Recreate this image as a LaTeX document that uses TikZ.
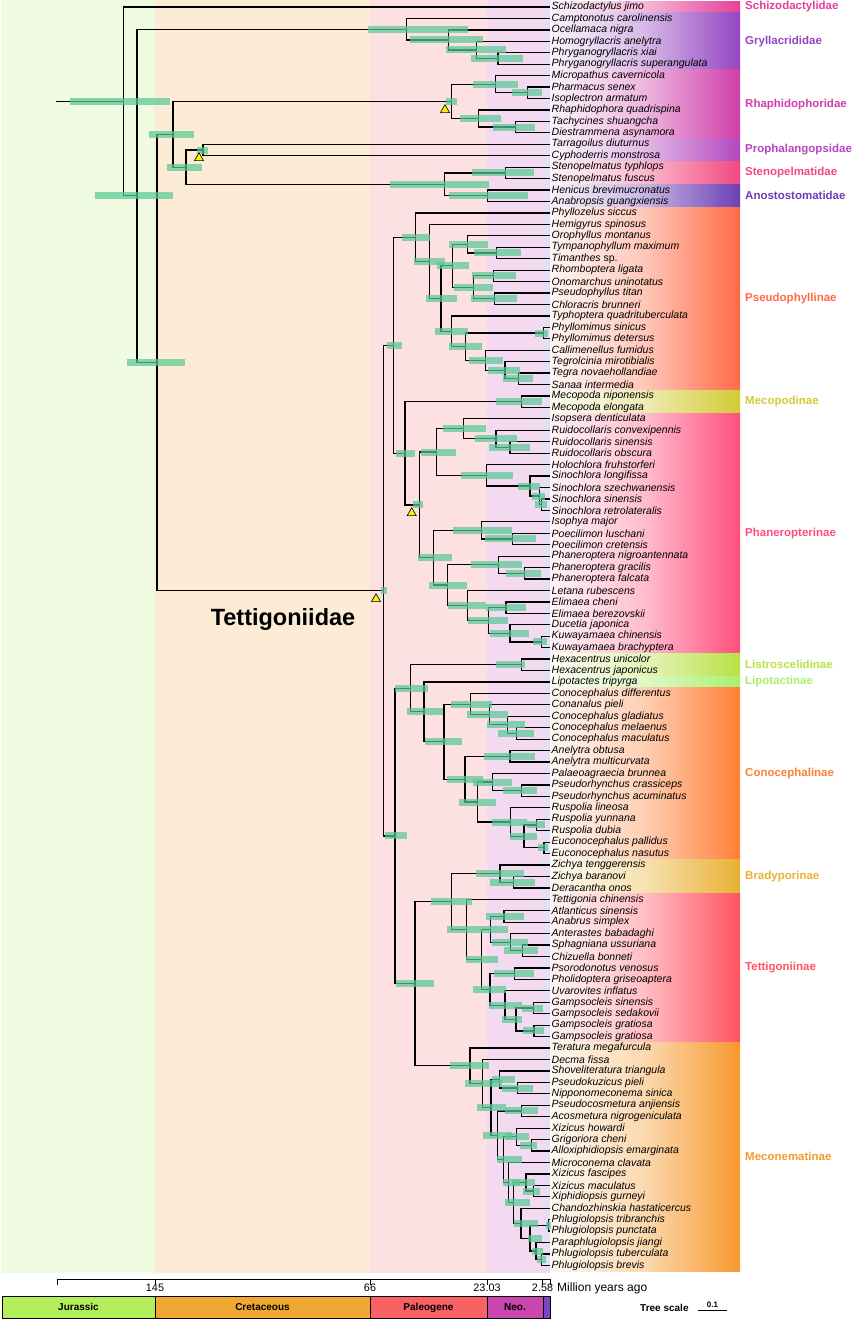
\documentclass[tikz,border=0pt]{standalone}
\usepackage{fontspec}
\setmainfont{Liberation Sans}
\usetikzlibrary{calc,shapes.geometric}

\pgfdeclarelayer{front}
\pgfsetlayers{main,front}

\definecolor{bandJ}{HTML}{EFFAE1}
\definecolor{bandK}{HTML}{FDECD5}
\definecolor{bandP}{HTML}{FDE0E1}
\definecolor{bandN}{HTML}{F3DAF0}
\definecolor{bandQ}{HTML}{E5DEF5}
\definecolor{perJ}{HTML}{B3EF5B}
\definecolor{perK}{HTML}{F1A832}
\definecolor{perP}{HTML}{F96164}
\definecolor{perN}{HTML}{CB45AE}
\definecolor{perQ}{HTML}{7B45C6}
\definecolor{hpdgreen}{HTML}{5AC896}
\definecolor{cSchi}{HTML}{E5409A}
\definecolor{cGryl}{HTML}{9545C2}
\definecolor{cRhap}{HTML}{D03FAA}
\definecolor{cProp}{HTML}{B247BE}
\definecolor{cSten}{HTML}{F2487F}
\definecolor{cAnos}{HTML}{6B3FB5}
\definecolor{cPseu}{HTML}{FF6B45}
\definecolor{cMeco}{HTML}{D3CB35}
\definecolor{cPhan}{HTML}{FF4F7D}
\definecolor{cList}{HTML}{B9E146}
\definecolor{cLipo}{HTML}{A8F06C}
\definecolor{cCono}{HTML}{FF7F35}
\definecolor{cBrad}{HTML}{E8B133}
\definecolor{cTett}{HTML}{FF5361}
\definecolor{cMcnm}{HTML}{F7992D}

\tikzset{
  branch/.style={line width=1.25pt,black},
  hpd/.style={fill=hpdgreen,fill opacity=0.72},
  leaf/.style={anchor=west,inner sep=1.5pt,font=\fontsize{10.5}{12}\selectfont\itshape},
  cladelab/.style={anchor=west,inner sep=0pt,font=\fontsize{11.5}{13}\selectfont\bfseries},
  cal/.style={regular polygon,regular polygon sides=3,draw=black,line width=0.6pt,fill=yellow,minimum size=10.5pt,inner sep=0pt},
  perbox/.style={draw=black,line width=0.5pt},
  perlab/.style={anchor=base,inner sep=0pt,font=\fontsize{10}{12}\selectfont\bfseries},
  ticklab/.style={anchor=base,inner sep=0pt,font=\fontsize{10.8}{12}\selectfont}
}

% name, x, child1, child2, bar from, bar to
\newcommand{\clade}[6]{%
  \coordinate (cm) at ($(#3)!.5!(#4)$);
  \coordinate (cx) at (#2,0);
  \coordinate (#1) at (cx |- cm);
  \draw[branch] (#3) -| (#1) |- (#4);
  \begin{pgfonlayer}{front}
    \coordinate (bx) at (#5,0);
    \fill[hpd] (bx |- #1) ++(0,-3.5) rectangle ++({#6-#5},7);
  \end{pgfonlayer}}

\begin{document}
\begin{tikzpicture}[x=1pt,y=-1pt]
\useasboundingbox (0,0) rectangle (858,1320);

\fill[bandJ] (1,0) rectangle (155,1273);
\fill[bandK] (155,0) rectangle (370,1273);
\fill[bandP] (370,0) rectangle (487,1273);
\fill[bandN] (487,0) rectangle (543,1273);
\fill[bandQ] (543,0) rectangle (550,1273);

\foreach \f/\l/\c/\n in {1/1/cSchi/Schizodactylidae,2/6/cGryl/Gryllacrididae,
  7/12/cRhap/Rhaphidophoridae,13/14/cProp/Prophalangopsidae,
  15/16/cSten/Stenopelmatidae,17/18/cAnos/Anostostomatidae,
  19/34/cPseu/Pseudophyllinae,35/36/cMeco/Mecopodinae,
  37/57/cPhan/Phaneropterinae,58/59/cList/Listroscelidinae,
  60/60/cLipo/Lipotactinae,61/75/cCono/Conocephalinae,
  76/78/cBrad/Bradyporinae,79/91/cTett/Tettigoniinae,
  92/111/cMcnm/Meconematinae}{
  \shade[left color=\c!6!white,right color=\c,middle color=\c!38!white]
    (550,{1.28+(\f-1)*11.44}) rectangle (740,{12.72+(\l-1)*11.44});
  \node[cladelab,text=\c] (lab\f) at (745,{7+(\f+\l-2)*5.72}) {\n};
}

\foreach \n [count=\i] in {Schizodactylus jimo,Camptonotus carolinensis,Ocellamaca nigra,
  Homogryllacris anelytra,Phryganogryllacris xiai,Phryganogryllacris superangulata,
  Micropathus cavernicola,Pharmacus senex,Isoplectron armatum,Rhaphidophora quadrispina,
  Tachycines shuangcha,Diestrammena asynamora,Tarragoilus diuturnus,Cyphoderris monstrosa,
  Stenopelmatus typhlops,Stenopelmatus fuscus,Henicus brevimucronatus,Anabropsis guangxiensis,
  Phyllozelus siccus,Hemigyrus spinosus,Orophyllus montanus,Tympanophyllum maximum,
  Timanthes \textup{sp.},Rhomboptera ligata,Onomarchus uninotatus,Pseudophyllus titan,
  Chloracris brunneri,Typhoptera quadrituberculata,Phyllomimus sinicus,Phyllomimus detersus,
  Callimenellus fumidus,Tegrolcinia mirotibialis,Tegra novaehollandiae,Sanaa intermedia,
  Mecopoda niponensis,Mecopoda elongata,Isopsera denticulata,Ruidocollaris convexipennis,
  Ruidocollaris sinensis,Ruidocollaris obscura,Holochlora fruhstorferi,Sinochlora longifissa,
  Sinochlora szechwanensis,Sinochlora sinensis,Sinochlora retrolateralis,Isophya major,
  Poecilimon luschani,Poecilimon cretensis,Phaneroptera nigroantennata,Phaneroptera gracilis,
  Phaneroptera falcata,Letana rubescens,Elimaea cheni,Elimaea berezovskii,Ducetia japonica,
  Kuwayamaea chinensis,Kuwayamaea brachyptera,Hexacentrus unicolor,Hexacentrus japonicus,
  Lipotactes tripyrga,Conocephalus differentus,Conanalus pieli,Conocephalus gladiatus,
  Conocephalus melaenus,Conocephalus maculatus,Anelytra obtusa,Anelytra multicurvata,
  Palaeoagraecia brunnea,Pseudorhynchus crassiceps,Pseudorhynchus acuminatus,Ruspolia lineosa,
  Ruspolia yunnana,Ruspolia dubia,Euconocephalus pallidus,Euconocephalus nasutus,
  Zichya tenggerensis,Zichya baranovi,Deracantha onos,Tettigonia chinensis,Atlanticus sinensis,
  Anabrus simplex,Anterastes babadaghi,Sphagniana ussuriana,Chizuella bonneti,
  Psorodonotus venosus,Pholidoptera griseoaptera,Uvarovites inflatus,Gampsocleis sinensis,
  Gampsocleis sedakovii,Gampsocleis gratiosa,Gampsocleis gratiosa,Teratura megafurcula,
  Decma fissa,Shoveliteratura triangula,Pseudokuzicus pieli,Nipponomeconema sinica,
  Pseudocosmetura anjiensis,Acosmetura nigrogeniculata,Xizicus howardi,Grigoriora cheni,
  Alloxiphidiopsis emarginata,Microconema clavata,Xizicus fascipes,Xizicus maculatus,
  Xiphidiopsis gurneyi,Chandozhinskia hastaticercus,Phlugiolopsis tribranchis,
  Phlugiolopsis punctata,Paraphlugiolopsis jiangi,Phlugiolopsis tuberculata,Phlugiolopsis brevis}{
  \coordinate (t\i) at (550,{7+(\i-1)*11.44});
  \node[leaf] (n\i) at (t\i) {\n};
}

\clade{g4}{498}{t5}{t6}{471}{523}
\clade{g3}{476.7}{t4}{g4}{446}{506}
\clade{g2}{448.3}{t3}{g3}{410}{483}
\clade{g1}{406.7}{t2}{g2}{368}{468}
\clade{r3}{527.7}{t8}{t9}{512}{542}
\clade{r2}{495.7}{t7}{r3}{473}{518}
\clade{r5}{515.7}{t11}{t12}{493}{535}
\clade{r4}{478.3}{t10}{r5}{460}{501}
\clade{r1}{451.7}{r2}{r4}{446}{457}
\clade{pr}{203}{t13}{t14}{197}{208}
\clade{st}{505.7}{t15}{t16}{472}{534}
\clade{an}{487.3}{t17}{t18}{449}{528}
\clade{sa}{444.3}{st}{an}{390}{489}
\clade{nd}{186}{pr}{sa}{167}{202}
\clade{nc}{173}{r1}{nd}{149}{194}

\clade{p5b}{496.7}{t22}{t23}{474}{520.7}
\clade{p5}{467.7}{t21}{p5b}{449}{487.7}
\clade{p7}{493.3}{t24}{t25}{471.7}{515.7}
\clade{p8}{494.3}{t26}{t27}{471}{516.7}
\clade{p6}{473.3}{p7}{p8}{454}{492.7}
\clade{p4}{452.7}{p5}{p6}{436.7}{469.3}
\clade{p11}{543.3}{t29}{t30}{535}{547.7}
\clade{p14}{518.3}{t33}{t34}{503.3}{533.3}
\clade{p13}{505}{t32}{p14}{487.7}{520}
\clade{p12}{485.7}{t31}{p13}{469}{502.7}
\clade{p10}{465.7}{p11}{p12}{449}{481.7}
\clade{p9}{451.7}{t28}{p10}{435}{467.7}
\clade{p3}{441}{p4}{p9}{426}{457}
\clade{p2}{429.3}{t20}{p3}{414}{445}
\clade{p1}{415.7}{t19}{p2}{401.7}{430}
\clade{me}{521.7}{t35}{t36}{496}{541.7}
\clade{u6}{510}{t39}{t40}{489.3}{530}
\clade{u5}{496}{t38}{u6}{475}{517.3}
\clade{u4}{463.3}{t37}{u5}{443.3}{486}
\clade{u7d}{541.7}{t44}{t45}{535}{546.7}
\clade{u7c}{539.3}{t43}{u7d}{531.7}{545}
\clade{u7b}{530}{t42}{u7c}{517.7}{540}
\clade{u7}{486.7}{t41}{u7b}{460.7}{512.7}
\clade{u3}{436.7}{u4}{u7}{420.7}{456}
\clade{u10}{512.3}{t47}{t48}{485}{536}
\clade{u9}{481.7}{t46}{u10}{452.7}{511.7}
\clade{u13}{524.3}{t50}{t51}{505.7}{541}
\clade{u12}{498.3}{t49}{u13}{471}{522.3}
\clade{u16}{506}{t53}{t54}{486}{525.7}
\clade{u18}{541.7}{t56}{t57}{533.3}{546.7}
\clade{u17}{510}{t55}{u18}{490}{529.3}
\clade{u15}{488.3}{u16}{u17}{468.3}{507.7}
\clade{u14}{467.3}{t52}{u15}{448.3}{486}
\clade{u11}{447.7}{u12}{u14}{429.3}{467.3}
\clade{u8}{433.3}{u9}{u11}{418.3}{451.7}
\clade{u2}{419.3}{u3}{u8}{412.7}{423.3}
\clade{u1}{405}{me}{u2}{396}{415}
\clade{u0}{393.3}{p1}{u1}{386.7}{401.7}

\clade{hx}{521.7}{t58}{t59}{496}{525}
\clade{c4e}{516.7}{t64}{t65}{498.3}{534.3}
\clade{c4d}{507.3}{t63}{c4e}{487.3}{525}
\clade{c4c}{489.3}{t62}{c4d}{467.3}{508.3}
\clade{c4a}{470.7}{t61}{c4c}{450.7}{491.7}
\clade{c6}{510}{t66}{t67}{484}{535}
\clade{c9}{521.7}{t69}{t70}{503.3}{536.7}
\clade{c8}{492.7}{t68}{c9}{472.7}{511.7}
\clade{c12}{536.7}{t72}{t73}{526.7}{545}
\clade{c13}{544}{t74}{t75}{538.3}{547.7}
\clade{c11}{524}{c12}{c13}{510}{536.7}
\clade{c10}{510.7}{t71}{c11}{492.3}{527.3}
\clade{c7}{477.3}{c8}{c10}{459}{495.7}
\clade{c4b}{465}{c6}{c7}{446.7}{483.3}
\clade{c3}{444}{c4a}{c4b}{425}{461.7}
\clade{c2}{424}{t60}{c3}{407.3}{442.7}
\clade{c1}{410.7}{hx}{c2}{395}{428.3}

\clade{b2}{513.3}{t77}{t78}{490}{535}
\clade{b1}{500}{t76}{b2}{476}{524.3}
\clade{k4}{504}{t80}{t81}{486}{524}
\clade{k7}{522.3}{t83}{t84}{504}{537.7}
\clade{k6}{510.7}{t82}{k7}{492.3}{528.3}
\clade{k5}{490.7}{k4}{k6}{477}{507.7}
\clade{k10}{514.3}{t85}{t86}{494}{534}
\clade{k13}{533.3}{t88}{t89}{521.7}{543.3}
\clade{k14}{534}{t90}{t91}{523.3}{544.3}
\clade{k12}{516}{k13}{k14}{501.7}{521.7}
\clade{k11}{505}{t87}{k12}{489}{521.7}
\clade{k9}{490}{k10}{k11}{472.7}{505.7}
\clade{k8}{481.7}{k5}{k9}{466}{498.3}
\clade{k1}{466.7}{t79}{k8}{447}{477}
\clade{k0}{451.7}{b1}{k1}{431}{471.7}

\clade{m95}{517.3}{t95}{t96}{501.7}{533.3}
\clade{m94}{499.3}{t94}{m95}{491.7}{515}
\clade{m97}{521.7}{t97}{t98}{505}{537.7}
\clade{m100}{531.7}{t100}{t101}{520}{537}
\clade{m99}{516.7}{t99}{m100}{505}{529}
\clade{m104}{533.3}{t104}{t105}{523.3}{540}
\clade{m103}{526}{t103}{m104}{512}{535}
\clade{m107}{548.5}{t107}{t108}{546}{550.5}
\clade{m110}{541.7}{t110}{t111}{536.7}{545.7}
\clade{m109}{536}{t109}{m110}{531.7}{543.3}
\clade{m108}{530}{m107}{m109}{528.3}{541.7}
\clade{m106}{521}{t106}{m108}{514}{537.7}
\clade{m9}{513.3}{m103}{m106}{505}{530}
\clade{m8}{508.3}{t102}{m9}{502.7}{520}
\clade{m7}{503.3}{m99}{m8}{496.7}{521.7}
\clade{m6}{497.7}{m97}{m7}{483.3}{512}
\clade{m2}{491}{m94}{m6}{476.7}{506}
\clade{m1}{482.3}{t93}{m2}{465}{501.7}
\clade{m0}{470}{t92}{m1}{450}{489.3}

\clade{l5}{415}{k0}{m0}{396}{434}
\clade{l0}{395}{c1}{l5}{385}{407}
\clade{tet}{383.3}{u0}{l0}{381}{387}
\clade{nb}{157}{nc}{tet}{127.3}{185.3}
\clade{na}{137}{g1}{nb}{95}{173.3}
\clade{root}{123.3}{t1}{na}{70}{170}
\coordinate (sx) at (56,0);
\coordinate (stub) at (sx |- root);
\draw[branch] (stub) -- (root);

\begin{pgfonlayer}{front}
\node[cal] (cal1) at (445,110) {};
\node[cal] (cal2) at (199,158) {};
\node[cal] (cal3) at (411.7,513) {};
\node[cal] (cal4) at (376,599) {};
\end{pgfonlayer}

\node[anchor=base,inner sep=0pt,font=\fontsize{23.5}{26}\selectfont\bfseries] (tetlab) at (283,625) {Tettigoniidae};

\draw[line width=0.8pt] (57,1279) -- (550,1279);
\foreach \x/\l in {57/,155/145,370/66,487/23.03,542.5/2.58,550/}{
  \draw[line width=0.8pt] (\x,1279) -- (\x,1285);
  \node[ticklab] at (\x,1291.7) {\l};
}
\node[anchor=base west,inner sep=0pt,font=\fontsize{12}{14}\selectfont] (mya) at (557,1291.7) {Million years ago};

\foreach \a/\b/\c/\n in {2/155/perJ/Jurassic,155/370/perK/Cretaceous,370/487/perP/Paleogene,487/543/perN/Neo.,543/550/perQ/}{
  \draw[perbox,fill=\c] (\a,1296) rectangle (\b,1318);
  \node[perlab] at ({(\a+\b)/2},1310.5) {\n};
}

\node[anchor=base west,inner sep=0pt,font=\fontsize{10}{12}\selectfont\bfseries] (tsc) at (640,1311.7) {Tree scale};
\draw[line width=1pt] (698,1310.5) -- (727,1310.5);
\node[anchor=base,inner sep=0pt,font=\fontsize{8}{9}\selectfont\bfseries] (tsv) at (712.5,1307.5) {0.1};
\end{tikzpicture}
\end{document}
